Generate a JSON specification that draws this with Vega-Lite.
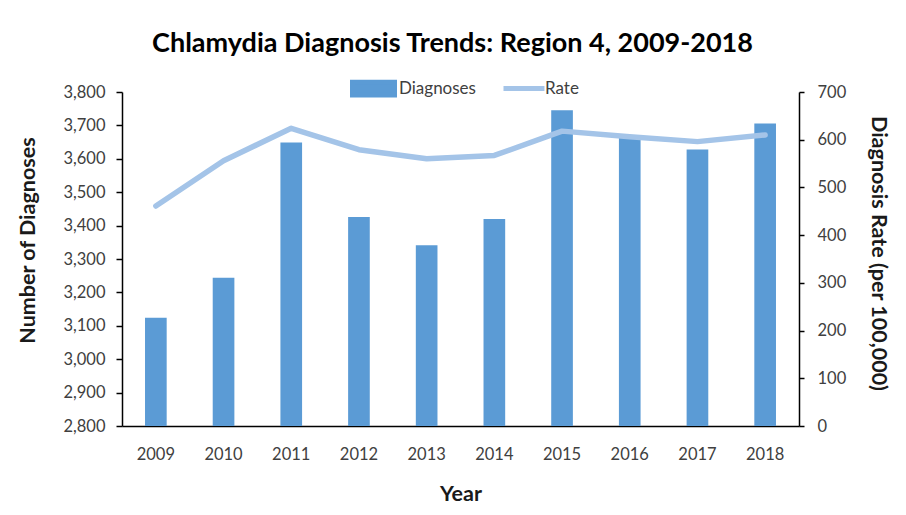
{
  "$schema": "https://vega.github.io/schema/vega-lite/v6.json",
  "width": 677,
  "height": 334,
  "autosize": {"type": "none"},
  "padding": {"left": 122, "top": 92, "right": 107, "bottom": 89},
  "background": "white",
  "config": {
    "view": {"stroke": null},
    "font": "Lato",
    "axis": {"domainColor": "#000000", "domainWidth": 1.5, "tickColor": "#000000", "tickWidth": 1.5, "labelFont": "Lato", "labelFontSize": 16.5, "labelColor": "#404040", "titleFont": "Lato", "titleFontSize": 21.5, "titleFontWeight": "bold", "titleColor": "#1a1a1a", "grid": false}
  },
  "title": {"text": "Chlamydia Diagnosis Trends: Region 4, 2009-2018", "font": "Lato", "fontSize": 27, "fontWeight": "bold", "color": "#000000", "anchor": "middle", "offset": 7, "dx": -8},
  "data": {"values": [
    {"year": "2009", "diagnoses": 3124, "rate": 461},
    {"year": "2010", "diagnoses": 3244, "rate": 556},
    {"year": "2011", "diagnoses": 3649, "rate": 624},
    {"year": "2012", "diagnoses": 3426, "rate": 579},
    {"year": "2013", "diagnoses": 3341, "rate": 560},
    {"year": "2014", "diagnoses": 3420, "rate": 567},
    {"year": "2015", "diagnoses": 3745, "rate": 618},
    {"year": "2016", "diagnoses": 3671, "rate": 606},
    {"year": "2017", "diagnoses": 3628, "rate": 596},
    {"year": "2018", "diagnoses": 3706, "rate": 610}
  ]},
  "encoding": {
    "x": {"field": "year", "type": "ordinal", "scale": {"paddingInner": 0.68, "paddingOuter": 0.34},
      "axis": {"title": "Year", "labelAngle": 0, "ticks": false, "labelPadding": 20, "titlePadding": 21}}
  },
  "layer": [
    {
      "mark": {"type": "bar", "clip": true},
      "encoding": {
        "y": {"field": "diagnoses", "type": "quantitative", "scale": {"domain": [2800, 3800], "zero": false, "nice": false},
          "axis": {"title": "Number of Diagnoses", "orient": "left", "format": ",.0f", "values": [2800,2900,3000,3100,3200,3300,3400,3500,3600,3700,3800], "tickSize": 6, "labelPadding": 11, "titlePadding": 23, "titleY": 148}},
        "color": {"datum": "Diagnoses", "type": "nominal", "scale": {"domain": ["Diagnoses", "Rate"], "range": ["#5b9bd5", "#a4c4e8"]},
          "legend": {"orient": "none", "legendX": 228, "legendY": -27, "direction": "horizontal", "title": null, "labelFont": "Lato", "labelFontSize": 17, "labelColor": "#404040", "symbolSize": 1764, "symbolType": "M-1,-0.3H1V0.3H-1Z", "columnPadding": 17, "labelOffset": 2, "padding": 0,
            "encode": {
              "symbols": {"update": {
                "shape": {"signal": "datum.value === 'Rate' ? 'M-1,-0.3M-1,0H0.95M0.95,0.3' : 'M-1,-0.3H1V0.3H-1Z'"},
                "fill": {"signal": "datum.value === 'Rate' ? 'transparent' : '#5b9bd5'"},
                "stroke": {"signal": "datum.value === 'Rate' ? '#a4c4e8' : 'transparent'"},
                "strokeWidth": {"value": 5},
                "opacity": {"value": 1}
              }},
              "labels": {"update": {"dx": {"signal": "datum.value === 'Rate' ? -5 : 0"}}}
            }}}
      }
    },
    {
      "mark": {"type": "line", "strokeWidth": 5.5, "strokeCap": "round", "strokeJoin": "round"},
      "encoding": {
        "y": {"field": "rate", "type": "quantitative", "scale": {"domain": [0, 700], "nice": false},
          "axis": {"title": "Diagnosis Rate (per 100,000)", "orient": "right", "values": [0,100,200,300,400,500,600,700], "tickSize": 5, "labelPadding": 13, "titlePadding": 21, "titleY": 161}},
        "color": {"datum": "Rate", "type": "nominal"}
      }
    }
  ],
  "resolve": {"scale": {"y": "independent"}}
}
